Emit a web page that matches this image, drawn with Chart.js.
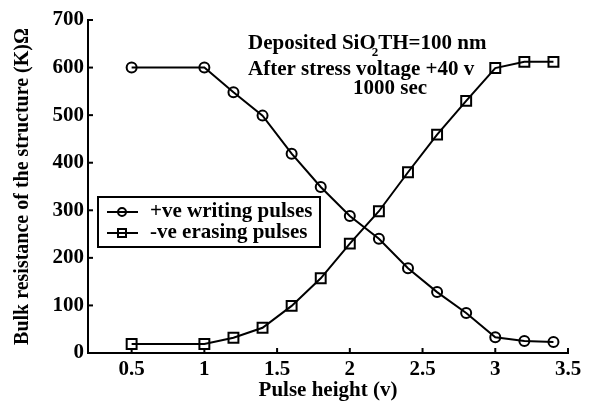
<!DOCTYPE html>
<html>
<head>
<meta charset="utf-8">
<script src="https://cdn.jsdelivr.net/npm/chart.js@4/dist/chart.umd.min.js"></script>
<style>
html,body{margin:0;padding:0;background:#fff;}
#wrap{width:592px;height:403px;position:relative;}
</style>
</head>
<body>
<div id="wrap"><canvas id="c" width="592" height="403"></canvas></div>
<script>
// ---- data ----
const pulseHeights = [0.5, 1.0, 1.2, 1.4, 1.6, 1.8, 2.0, 2.2, 2.4, 2.6, 2.8, 3.0, 3.2, 3.4];
const writingPulses = [600, 600, 548, 499, 419, 349, 288, 240, 178, 128, 84, 33, 25, 23];
const erasingPulses = [19, 19, 32, 53, 99, 157, 230, 298, 380, 459, 530, 599, 612, 612];
const seriesNames = ['+ve writing pulses', '-ve erasing pulses'];
const xTicks = [0.5, 1, 1.5, 2, 2.5, 3, 3.5];
const yTicks = [0, 100, 200, 300, 400, 500, 600, 700];
const xTitle = 'Pulse height (v)';
const yTitle = 'Bulk resistance of the structure (K)\u03A9';
const noteLines = ['Deposited SiO', '2', 'TH=100 nm', 'After stress voltage +40 v', '1000 sec'];

const FONT = '"Liberation Serif", "Times New Roman", serif';

const toPts = (xs, ys) => xs.map((x, i) => ({x: x, y: ys[i]}));

const extras = {
  id: 'extras',
  afterDraw(chart) {
    const ctx = chart.ctx;
    const xs = chart.scales.x, ys = chart.scales.y;
    const ca = chart.chartArea;
    ctx.save();
    ctx.strokeStyle = '#000';
    ctx.lineWidth = 2;
    // inward ticks
    xs.ticks.forEach(t => {
      const px = xs.getPixelForValue(t.value);
      ctx.beginPath(); ctx.moveTo(px, ca.bottom); ctx.lineTo(px, ca.bottom - 5); ctx.stroke();
    });
    ys.ticks.forEach(t => {
      const py = ys.getPixelForValue(t.value);
      ctx.beginPath(); ctx.moveTo(ca.left, py); ctx.lineTo(ca.left + 5, py); ctx.stroke();
    });
    // annotation
    ctx.fillStyle = '#000';
    ctx.textBaseline = 'alphabetic';
    ctx.textAlign = 'left';
    ctx.font = 'bold 21px ' + FONT;
    let x0 = 248, y0 = 49;
    ctx.fillText(noteLines[0], x0, y0);
    let w = ctx.measureText(noteLines[0]).width;
    ctx.font = 'bold 13px ' + FONT;
    ctx.fillText(noteLines[1], x0 + w - 4, y0 + 7);
    const w2 = ctx.measureText(noteLines[1]).width;
    ctx.font = 'bold 21px ' + FONT;
    ctx.fillText(noteLines[2], x0 + w - 4 + w2, y0);
    ctx.fillText(noteLines[3], 248, 75);
    ctx.textAlign = 'center';
    ctx.fillText(noteLines[4], 390, 94);
    // legend
    const lx = 98, ly = 197, lw = 222, lh = 50;
    ctx.lineWidth = 2;
    ctx.fillStyle = '#fff';
    ctx.fillRect(lx, ly, lw, lh);
    ctx.strokeRect(lx, ly, lw, lh);
    chart.data.datasets.forEach((ds, i) => {
      const cy = ly + 15 + i * 21;
      ctx.beginPath(); ctx.moveTo(lx + 9, cy); ctx.lineTo(lx + 40, cy); ctx.stroke();
      ctx.beginPath();
      if (ds.pointStyle === 'circle') {
        ctx.arc(lx + 24, cy, 4, 0, Math.PI * 2);
      } else {
        ctx.rect(lx + 20, cy - 4, 8, 8);
      }
      ctx.stroke();
      ctx.fillStyle = '#000';
      ctx.textAlign = 'left';
      ctx.textBaseline = 'middle';
      ctx.font = 'bold 21px ' + FONT;
      ctx.fillText(ds.label, lx + 52, cy);
    });
    ctx.restore();
  }
};

new Chart(document.getElementById('c'), {
  type: 'line',
  data: {
    datasets: [
      {
        label: seriesNames[0],
        data: toPts(pulseHeights, writingPulses),
        borderColor: '#000', borderWidth: 2,
        pointStyle: 'circle', pointRadius: 5, pointBorderWidth: 2,
        pointBorderColor: '#000', pointBackgroundColor: 'rgba(0,0,0,0)',
        tension: 0
      },
      {
        label: seriesNames[1],
        data: toPts(pulseHeights, erasingPulses),
        borderColor: '#000', borderWidth: 2,
        pointStyle: 'rect', pointRadius: 7, pointBorderWidth: 2,
        pointBorderColor: '#000', pointBackgroundColor: 'rgba(0,0,0,0)',
        tension: 0
      }
    ]
  },
  options: {
    responsive: false,
    animation: false,
    devicePixelRatio: 1,
    layout: {padding: {left: 11, right: 24, top: 20, bottom: 0}},
    plugins: {legend: {display: false}, tooltip: {enabled: false}},
    scales: {
      x: {
        type: 'linear', min: 0.2, max: 3.5,
        afterBuildTicks: ax => { ax.ticks = xTicks.map(v => ({value: v})); },
        afterFit: ax => { ax.height = 50; },
        grid: {display: false, drawTicks: false},
        border: {display: true, color: '#000', width: 2},
        ticks: {color: '#000', font: {family: FONT, size: 21, weight: 'bold'}, padding: 4,
                maxRotation: 0, callback: v => String(v)},
        title: {display: true, text: xTitle, color: '#000', padding: {top: 0, bottom: 0},
                font: {family: FONT, size: 21, weight: 'bold'}}
      },
      y: {
        type: 'linear', min: 0, max: 700,
        afterBuildTicks: ax => { ax.ticks = yTicks.map(v => ({value: v})); },
        afterFit: ax => { ax.width = 77; },
        grid: {display: false, drawTicks: false},
        border: {display: true, color: '#000', width: 2},
        ticks: {color: '#000', font: {family: FONT, size: 21, weight: 'bold'}, padding: 4},
        title: {display: true, text: yTitle, color: '#000', padding: {top: 0, bottom: 4},
                font: {family: FONT, size: 20, weight: 'bold'}}
      }
    }
  },
  plugins: [extras]
});
</script>
</body>
</html>
